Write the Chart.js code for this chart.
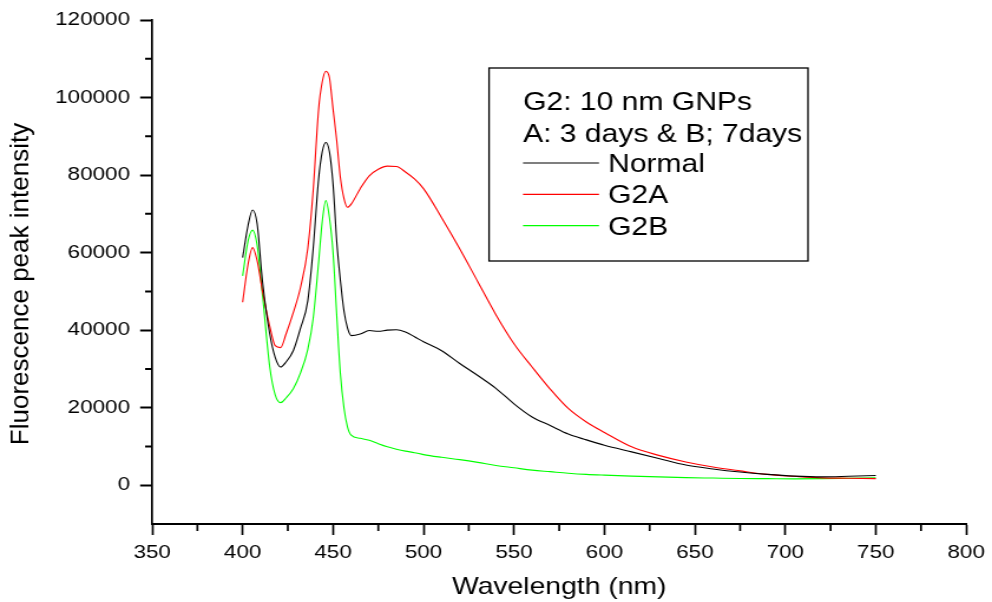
<!DOCTYPE html>
<html>
<head>
<meta charset="utf-8">
<title>Fluorescence spectra</title>
<script src="https://cdn.jsdelivr.net/npm/chart.js@4/dist/chart.umd.min.js"></script>
<style>
  html, body { margin: 0; padding: 0; background: #fff; overflow: hidden; }
  #wrap { width: 841px; height: 602px; transform-origin: 0 0; }
  #chart { display: block; }
</style>
</head>
<body>
<div id="wrap"><canvas id="chart" width="841" height="602"></canvas></div>
<script>
// emission spectra, wavelength in nm
const wavelength = [400, 403, 405.5, 408, 411, 415, 418, 421, 424, 428, 432, 436, 439, 442, 444, 446, 448, 450, 452, 454,
  456, 458, 460, 465, 470, 475, 480, 485, 490, 495, 500, 510, 520, 530, 540, 550, 560, 570, 580, 590,
  600, 615, 630, 645, 660, 675, 690, 705, 720, 735, 750];

const normal = [58700, 67000, 71000, 67500, 52500, 39000, 33000, 30500, 31800, 34700, 40500, 47500, 61000, 79000, 86000, 88400, 86000, 77600, 63000, 53000,
  45000, 40500, 38600, 39000, 39900, 39700, 40000, 40100, 39500, 38300, 37000, 34700, 31400, 28300, 25000, 21000, 17600, 15400, 13200, 11700,
  10300, 8600, 6900, 5200, 4200, 3400, 2800, 2350, 2150, 2300, 2500];

const g2a = [47200, 57000, 61300, 58000, 50000, 41000, 36000, 35500, 39000, 44500, 51000, 61000, 76000, 97000, 104000, 106800, 105100, 97000, 89000, 79500,
  74000, 71700, 72500, 76500, 79800, 81500, 82300, 82200, 80800, 79000, 76500, 69000, 61000, 52500, 44000, 36500, 30500, 24800, 19800, 16300,
  13600, 9900, 7700, 6000, 4700, 3700, 2800, 2300, 1900, 1800, 1700];

const g2b = [54000, 63000, 65800, 62000, 49000, 30500, 23300, 21300, 22500, 24900, 29000, 35000, 43000, 57500, 68000, 73400, 69000, 60000, 44000, 29000,
  20000, 15000, 12900, 12100, 11600, 10700, 9900, 9300, 8800, 8400, 7900, 7200, 6600, 5900, 5100, 4500, 3900, 3500, 3100, 2800,
  2600, 2350, 2150, 1950, 1850, 1750, 1700, 1650, 1700, 1800, 1900];

const seriesNames = ["Normal", "G2A", "G2B"];
const seriesColors = ["#000000", "#ff0000", "#00ff00"];
const legendHeader = ["G2: 10 nm GNPs", "A: 3 days & B; 7days"];
const xTickValues = [350, 400, 450, 500, 550, 600, 650, 700, 750, 800];
const yTickValues = [0, 20000, 40000, 60000, 80000, 100000, 120000];
const xAxis = { min: 350, max: 800, title: "Wavelength (nm)" };
const yAxis = { min: -10000, max: 120000, title: "Fluorescence peak intensity" };

// the canvas is drawn narrower and stretched sideways, this undoes it where needed
const SX = 992 / 841;
document.getElementById("wrap").style.transform = "scaleX(" + SX + ")";
const FONT = "'Liberation Sans', Arial, sans-serif";

const seriesData = [normal, g2a, g2b];
const datasets = seriesData.map((vals, i) => ({
  label: seriesNames[i],
  data: wavelength.map((w, j) => ({ x: w, y: vals[j] })),
  borderColor: seriesColors[i],
  borderWidth: 1.1,
  pointRadius: 0,
  cubicInterpolationMode: "monotone",
  fill: false,
}));

const asTicks = (vals) => vals.map((v) => ({ value: v }));

// short ticks half way between the labelled ones
const minorTicks = {
  id: "minorTicks",
  afterDraw(chart) {
    const ctx = chart.ctx;
    const x = chart.scales.x, y = chart.scales.y;
    ctx.save();
    ctx.strokeStyle = "#000";
    ctx.lineWidth = 1.7;
    ctx.beginPath();
    for (let i = 1; i < xTickValues.length; i++) {
      const px = x.getPixelForValue((xTickValues[i - 1] + xTickValues[i]) / 2);
      ctx.moveTo(px, x.top);
      ctx.lineTo(px, x.top + 7);
    }
    ctx.stroke();
    ctx.lineWidth = 2;
    ctx.beginPath();
    for (let i = 1; i < yTickValues.length; i++) {
      const py = y.getPixelForValue((yTickValues[i - 1] + yTickValues[i]) / 2);
      ctx.moveTo(y.right, py);
      ctx.lineTo(y.right - 6, py);
    }
    ctx.stroke();
    ctx.restore();
  },
};

// boxed legend with the two header lines
const boxLegend = {
  id: "boxLegend",
  afterDraw(chart) {
    const ctx = chart.ctx;
    ctx.save();
    ctx.strokeStyle = "#000";
    ctx.lineWidth = 1.3;
    ctx.strokeRect(414.6, 68, 270.4, 193);
    ctx.font = "25.5px " + FONT;
    ctx.fillStyle = "#000";
    ctx.textBaseline = "middle";
    legendHeader.forEach((t, i) => ctx.fillText(t, 443.4, 103 + i * 31.5));
    chart.data.datasets.forEach((ds, i) => {
      const yy = 165 + i * 31.3;
      ctx.strokeStyle = ds.borderColor;
      ctx.lineWidth = 1.2;
      ctx.beginPath();
      ctx.moveTo(443.4, yy - 2);
      ctx.lineTo(507.8, yy - 2);
      ctx.stroke();
      ctx.fillText(ds.label, 515.5, yy);
    });
    ctx.restore();
  },
};

// vertical axis title, kept unstretched
const yTitle = {
  id: "yTitle",
  afterDraw(chart) {
    const ctx = chart.ctx;
    ctx.save();
    ctx.translate(21 / SX, 284);
    ctx.scale(1 / SX, 1);
    ctx.rotate(-Math.PI / 2);
    ctx.font = "26px " + FONT;
    ctx.fillStyle = "#000";
    ctx.textAlign = "center";
    ctx.textBaseline = "middle";
    ctx.fillText(yAxis.title, 0, 0);
    ctx.restore();
  },
};

new Chart(document.getElementById("chart"), {
  type: "line",
  data: { datasets },
  options: {
    responsive: false,
    devicePixelRatio: 1,
    animation: false,
    layout: { padding: { left: 0, right: 19.5, top: 19, bottom: 0 } },
    plugins: { legend: { display: false }, tooltip: { enabled: false } },
    scales: {
      x: {
        type: "linear",
        min: xAxis.min,
        max: xAxis.max,
        afterBuildTicks(scale) { scale.ticks = asTicks(xTickValues); },
        ticks: { color: "#000", font: { family: FONT, size: 19 }, padding: 6, maxRotation: 0, autoSkip: false, callback: (v) => String(v) },
        grid: { drawOnChartArea: false, tickLength: 11, tickColor: "#000", tickWidth: 1.7 },
        border: { display: true, color: "#000", width: 2 },
        title: { display: true, text: xAxis.title, color: "#000", font: { family: FONT, size: 24 }, padding: { top: 0, bottom: 0 } },
        afterFit(scale) { scale.height = 78; },
      },
      y: {
        min: yAxis.min,
        max: yAxis.max,
        afterBuildTicks(scale) { scale.ticks = asTicks(yTickValues); },
        ticks: { color: "#000", font: { family: FONT, size: 19 }, padding: 8.6, autoSkip: false, callback: (v) => String(v) },
        grid: { drawOnChartArea: false, tickLength: 10.2, tickColor: "#000", tickWidth: 2 },
        border: { display: true, color: "#000", width: 1.7 },
        afterFit(scale) { scale.width = 129; },
      },
    },
  },
  plugins: [minorTicks, boxLegend, yTitle],
});
</script>
</body>
</html>
